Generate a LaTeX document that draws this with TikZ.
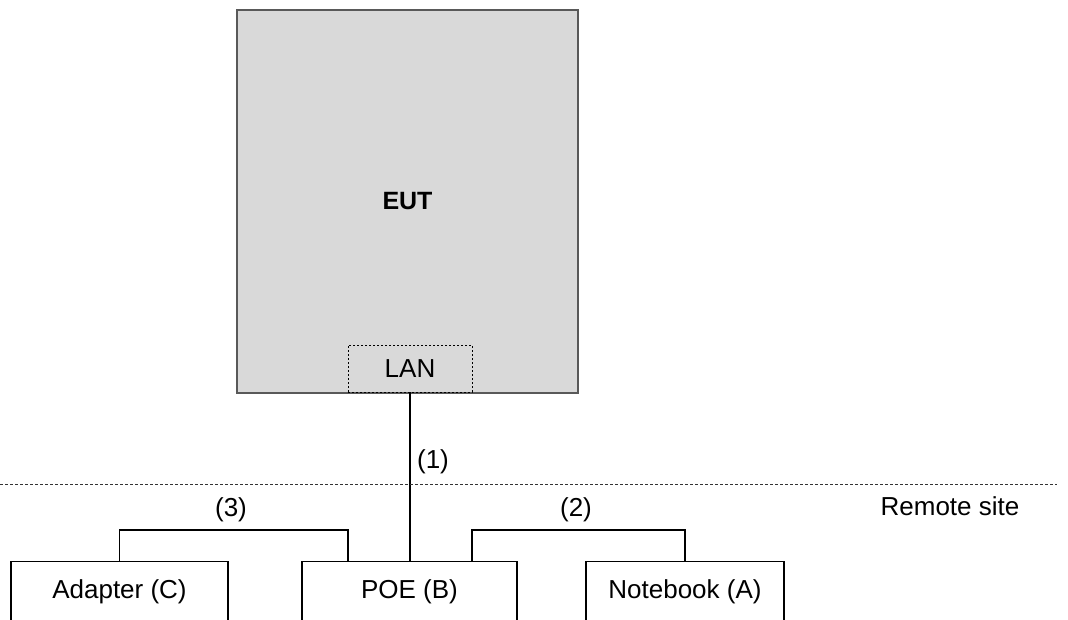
\documentclass[tikz,border=0pt]{standalone}
\usepackage{fontspec}
\setmainfont{Liberation Sans}
\usetikzlibrary{positioning}
\definecolor{eutfill}{RGB}{217,217,217}
\definecolor{eutline}{RGB}{89,89,89}

\begin{document}
\begin{tikzpicture}[
        x=1pt, y=-1pt, line width=1.1pt,
        font=\fontsize{26}{31}\selectfont,
        every node/.style={inner sep=0pt},
        device/.style={draw, rectangle, minimum height=60pt, anchor=north},
        port/.style={draw, rectangle, dash pattern=on 2pt off 2pt, line width=0.8pt,
                     minimum width=124pt, minimum height=47pt},
        sitesep/.style={dash pattern=on 3pt off 2pt, line width=1pt, black!80}
        ]
        \useasboundingbox (0,0) rectangle (1068,619);
        \clip (0,0) rectangle (1068,619);

        \node[draw=eutline, fill=eutfill, minimum width=341pt, minimum height=383pt,
              font=\fontsize{25}{30}\selectfont\bfseries]  (eut)      at (407.5,201.5) {EUT};
        \node[port]                                      (lan)      at (410,368.5)   {LAN};

        \node[device, minimum width=217pt]               (adapter)  at (119.5,561)   {Adapter (C)};
        \node[device, minimum width=215pt]               (poe)      at (409.5,561)   {POE (B)};
        \node[device, minimum width=198pt]               (notebook) at (685,561)     {Notebook (A)};

        \coordinate (poeleft)  at ([xshift=-61.5pt]poe.north);
        \coordinate (poeright) at ([xshift=62.5pt]poe.north);
        \coordinate (siteW) at (0,484.5);
        \coordinate (siteE) at (1057,484.5);

        % cables
        \draw (lan.south) -- (lan.south |- poe.north);
        \draw (adapter.north) -- ++(0,-31) -| (poeleft);
        \draw (poeright) -- ++(0,-31) -| (notebook.north);

        \draw[sitesep] (siteW) -- (siteE);

        \node (cable1) at (433,462)   {(1)};
        \node (cable2) at (576,510)   {(2)};
        \node (cable3) at (231,510)   {(3)};
        \node (remote) at (950,506)   {Remote site};
      \end{tikzpicture}
\end{document}
